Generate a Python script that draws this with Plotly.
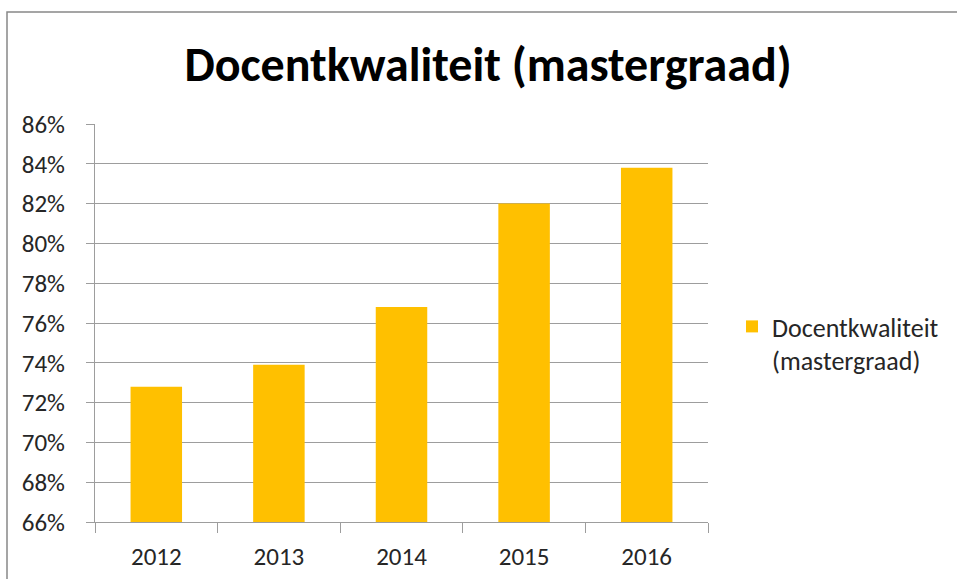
import plotly.graph_objects as go

years = ["2012", "2013", "2014", "2015", "2016"]
values = [0.728, 0.739, 0.768, 0.820, 0.838]
series_name = "Docentkwaliteit<br>(mastergraad)"
title_text = "Docentkwaliteit (mastergraad)"

W, H = 957, 579
L, R, T, B = 95, 249, 124, 57
pw, ph = W - L - R, H - T - B

FONT = "Carlito, Lato, sans-serif"
GRID = "#9d9d9d"
TXT = "#262626"

fig = go.Figure()
fig.add_trace(go.Bar(
    x=years, y=values, name=series_name,
    marker=dict(color="#FFC000", line=dict(width=0)),
    width=0.42, showlegend=True,
))

# chart border (top & left visible)
bx = (7 - L) / pw
by = 1 + (T - 12) / ph
fig.add_shape(type="path", xref="paper", yref="paper",
              path=f"M {bx},-0.5 L {bx},{by} L 1.6,{by}",
              line=dict(color="#888888", width=1.5), layer="above")

fig.update_layout(
    width=W, height=H,
    margin=dict(l=L, r=R, t=T, b=B, autoexpand=False),
    paper_bgcolor="white", plot_bgcolor="white",
    font=dict(family=FONT, color=TXT, size=25),
    title=dict(text=f"<b>{title_text}</b>", x=488 / W, xanchor="center",
               xref="container",
               y=1 - 64 / H, yref="container", yanchor="middle",
               font=dict(family=FONT, size=48, color="black")),
    legend=dict(x=(732 - L) / pw, xanchor="left", y=(522 - 303) / ph, yanchor="top",
                font=dict(family=FONT, size=26, color=TXT),
                itemwidth=30, tracegroupgap=0, valign="top"),
    showlegend=True,
)
fig.update_yaxes(range=[0.66, 0.86], dtick=0.02, tick0=0.66, tickformat=".0%",
                 showgrid=True, gridcolor=GRID, gridwidth=1,
                 showline=True, linecolor=GRID, linewidth=1,
                 ticks="outside", ticklen=8, tickcolor=GRID,
                 ticklabelstandoff=16, zeroline=False, automargin=False,
                 tickfont=dict(family=FONT, size=25, color=TXT))
fig.update_xaxes(showline=True, linecolor=GRID, linewidth=1,
                 ticks="outside", ticklen=10, tickcolor=GRID, tickson="boundaries",
                 ticklabelstandoff=12, automargin=False,
                 tickfont=dict(family=FONT, size=25, color=TXT))

fig.write_html("out.html", config={"displayModeBar": False},
               post_script="document.body.style.margin='0';document.body.style.overflow='hidden';")
